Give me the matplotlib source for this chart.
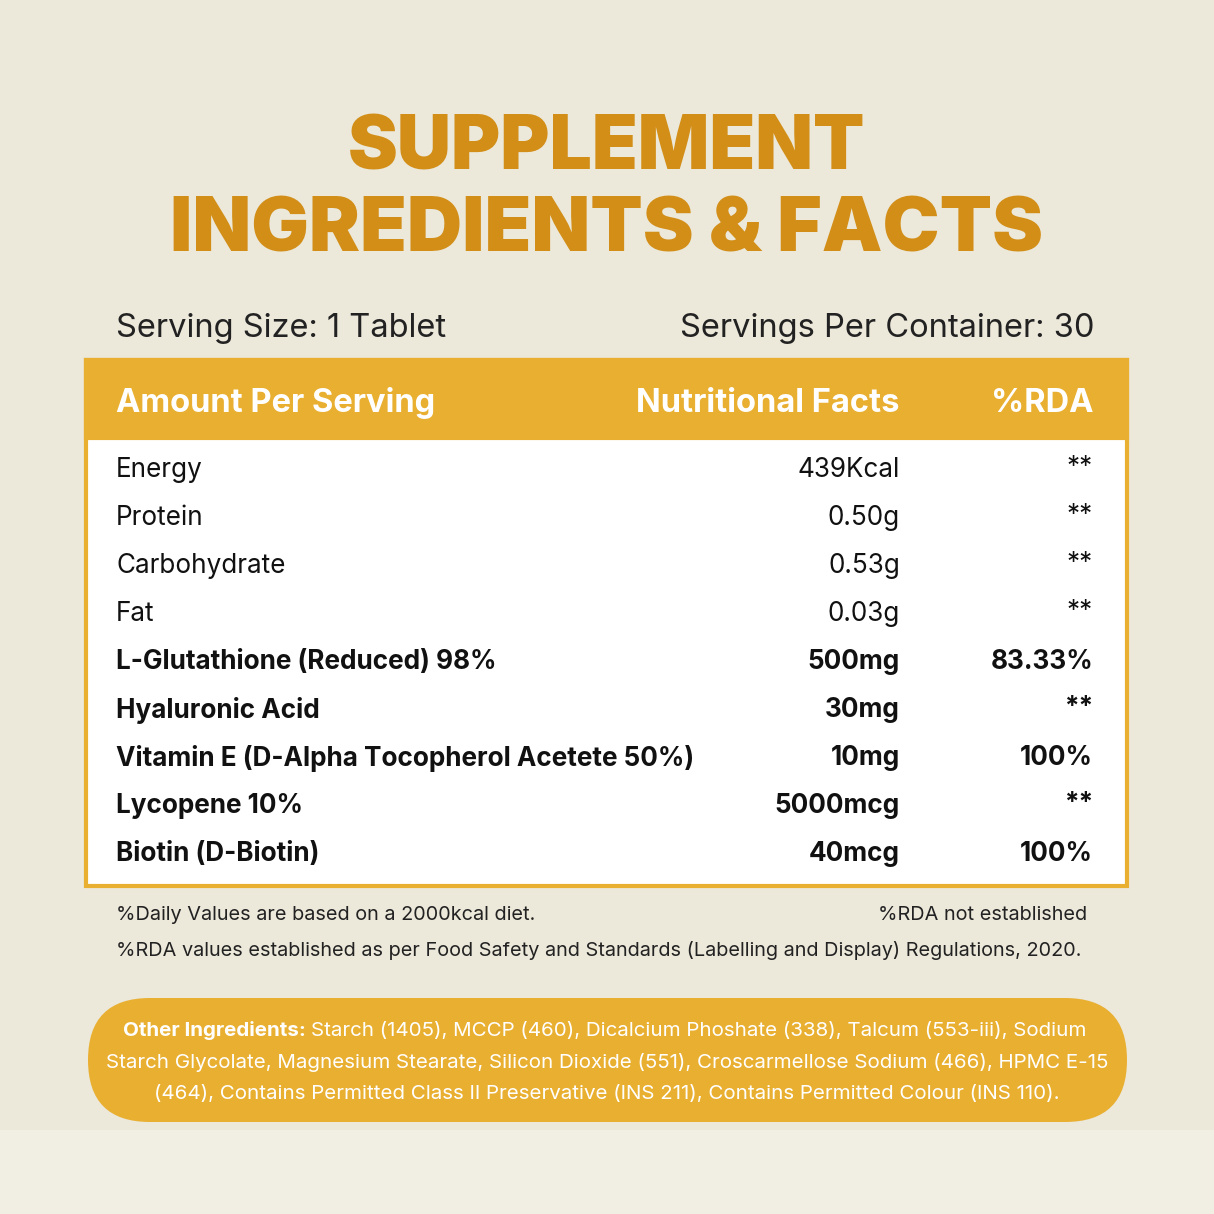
import matplotlib
matplotlib.use("Agg")
import matplotlib.pyplot as plt
from matplotlib.patches import Rectangle, FancyBboxPatch

nutrients = ["Energy", "Protein", "Carbohydrate", "Fat",
             "L-Glutathione (Reduced) 98%", "Hyaluronic Acid",
             "Vitamin E (D-Alpha Tocopherol Acetete 50%)", "Lycopene 10%",
             "Biotin (D-Biotin)"]
amounts = ["439Kcal", "0.50g", "0.53g", "0.03g", "500mg", "30mg", "10mg", "5000mcg", "40mcg"]
rda = ["**", "**", "**", "**", "83.33%", "**", "100%", "**", "100%"]
is_bold = [False, False, False, False, True, True, True, True, True]
headers = ["Amount Per Serving", "Nutritional Facts", "%RDA"]

ORANGE = "#E9AF31"
TITLE = "#D28E17"
BG = "#ECE8DA"
FONT = "Inter"

fig = plt.figure(figsize=(12.14, 12.14), dpi=100)
ax = fig.add_axes([0, 0, 1, 1])
ax.set_xlim(0, 1214)
ax.set_ylim(1214, 0)
ax.axis("off")
fig.patch.set_facecolor(BG)
ax.add_patch(Rectangle((0, 1130), 1214, 84, color="#F1EEE4", zorder=0))

ax.text(607, 150, "SUPPLEMENT", ha="center", va="center", fontsize=54,
        fontweight="black", color=TITLE, family=FONT)
ax.text(607, 232, "INGREDIENTS & FACTS", ha="center", va="center", fontsize=55,
        fontweight="black", color=TITLE, family=FONT)

ax.text(116, 328, "Serving Size: 1 Tablet", ha="left", va="center", fontsize=23.5,
        color="#222222", family=FONT)
ax.text(1095, 328, "Servings Per Container: 30", ha="right", va="center", fontsize=23.5,
        color="#222222", family=FONT)

# table
ax.add_patch(Rectangle((86, 360), 1041, 526, facecolor="white", edgecolor=ORANGE, lw=3, zorder=1))
ax.add_patch(Rectangle((86, 360), 1041, 78, facecolor=ORANGE, edgecolor=ORANGE, lw=3, zorder=2))
ax.text(116, 403, headers[0], ha="left", va="center", fontsize=23.5, fontweight="bold",
        color="white", family=FONT, zorder=3)
ax.text(900, 403, headers[1], ha="right", va="center", fontsize=23.5, fontweight="bold",
        color="white", family=FONT, zorder=3)
ax.text(1094, 403, headers[2], ha="right", va="center", fontsize=23.5, fontweight="bold",
        color="white", family=FONT, zorder=3)

for i, (n, a, r, b) in enumerate(zip(nutrients, amounts, rda, is_bold)):
    y = 470 + i * 48
    w = "bold" if b else "normal"
    ax.text(116, y, n, ha="left", va="center", fontsize=18.8, fontweight=w,
            color="#111111", family=FONT, zorder=3)
    ax.text(900, y, a, ha="right", va="center", fontsize=18.8, fontweight=w,
            color="#111111", family=FONT, zorder=3)
    ry = y - 2 if r == "**" else y
    ax.text(1093, ry, r, ha="right", va="center", fontsize=18.8, fontweight=w,
            color="#111111", family=FONT, zorder=3)

ax.text(116, 915, "%Daily Values are based on a 2000kcal diet.", ha="left", va="center",
        fontsize=14.3, color="#222222", family=FONT)
ax.text(1087, 915, "%RDA not established", ha="right", va="center",
        fontsize=14.3, color="#222222", family=FONT)
ax.text(116, 951, "%RDA values established as per Food Safety and Standards (Labelling and Display) Regulations, 2020.",
        ha="left", va="center", fontsize=14.3, color="#222222", family=FONT)

ax.add_patch(FancyBboxPatch((88, 998), 1039, 124, boxstyle="round,pad=0,rounding_size=62",
                            facecolor=ORANGE, edgecolor="none", zorder=1))
lines = ["Starch (1405), MCCP (460), Dicalcium Phoshate (338), Talcum (553-iii), Sodium",
         "Starch Glycolate, Magnesium Stearate, Silicon Dioxide (551), Croscarmellose Sodium (466), HPMC E-15",
         "(464), Contains Permitted Class II Preservative (INS 211), Contains Permitted Colour (INS 110)."]
t = ax.text(123, 1031, "Other Ingredients: ", ha="left", va="center", fontsize=14.8,
            fontweight="bold", color="white", family=FONT, zorder=3)
ax.annotate(lines[0], xycoords=t, xy=(1, 0.5), va="center", ha="left", fontsize=14.8,
            color="white", family=FONT, zorder=3)
ax.text(607, 1063, lines[1], ha="center", va="center", fontsize=14.8, color="white",
        family=FONT, zorder=3)
ax.text(607, 1094, lines[2], ha="center", va="center", fontsize=14.8, color="white",
        family=FONT, zorder=3)

fig.savefig("out.png", dpi=100, facecolor=BG)
